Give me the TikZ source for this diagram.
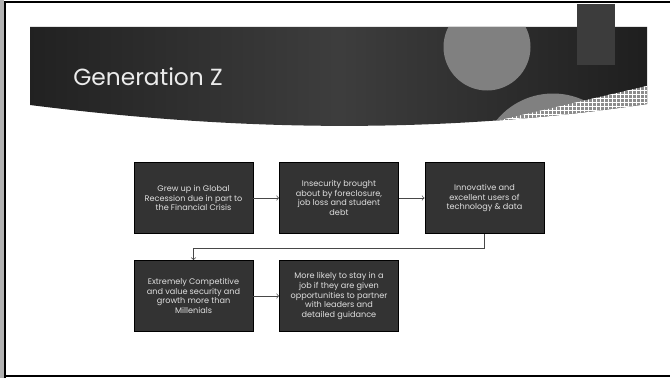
\documentclass[tikz,border=0pt]{standalone}
\usepackage{fontspec}
\setmainfont{Poppins}
\usepackage{tikz}
\usetikzlibrary{positioning, arrows, patterns}

\definecolor{boxgray}{HTML}{333333}
\definecolor{circgray}{HTML}{808080}
\definecolor{rectgray}{HTML}{3C3C3C}

\begin{document}
\begin{tikzpicture}[x=0.75pt, y=-0.75pt, node distance=109.1pt, on grid,
    box/.style={draw=black, line width=0.6pt, fill=boxgray, text=black!12,
        minimum width=89.25pt, minimum height=53.25pt, inner sep=1pt,
        align=center, font=\fontsize{6.1}{7.4}\selectfont},
    link/.style={->, draw=black!72, line width=0.5pt}]
    \useasboundingbox (0,0) rectangle (670,378);

    % slide frame
    \fill[black!30] (0,0) rectangle (4,378);
    \draw[line width=1.5pt] (5,378) -- (5,2) -- (670,2);
    \draw[line width=1.5pt] (5,376) -- (670,376);

    % title band
    \path[left color=black!87, right color=black!88, middle color=black!76]
        (30,27) -- (647,27) -- (647,104) .. controls (450,133) and (250,133) .. (30,105) -- cycle;
    \begin{scope}
        \clip (30,27) -- (647,27) -- (647,104) .. controls (450,133) and (250,133) .. (30,105) -- cycle;
        \fill[circgray] (487,47) circle (43.5);
        \fill[circgray] (553,166.5) circle (73);
        \fill[black!45] (470,127) -- (647,86) -- (647,140) -- (470,140) -- cycle;
        \fill[pattern=grid, pattern color=white] (470,127) -- (647,86) -- (647,140) -- (470,140) -- cycle;
    \end{scope}
    \fill[rectgray] (577,4) rectangle (615,65);
    \node[anchor=base west, inner sep=0pt, text=black!8, font=\fontsize{17.5}{20}\selectfont]
        (title) at (73,85) {Generation Z};

    % flow boxes
    \node[box] (grew) at (193.5,198) {Grew up in Global\\Recession due in part to\\the Financial Crisis};
    \node[box] (insec) [right=of grew] {Insecurity brought\\about by foreclosure,\\job loss and student\\debt};
    \node[box] (innov) [right=of insec] {Innovative and\\excellent users of\\technology \& data};
    \node[box] (compet) [below=73.5pt of grew] {Extremely Competitive\\and value security and\\growth more than\\Millenials};
    \node[box] (stay) [right=of compet] {More likely to stay in a\\job if they are given\\opportunities to partner\\with leaders and\\detailed guidance};

    \path[link]
    (grew) edge (insec)
    (insec) edge (innov)
    (compet) edge (stay);
    \draw[link] (innov.south) -- ++(0,14) -| (compet.north);
\end{tikzpicture}
\end{document}
